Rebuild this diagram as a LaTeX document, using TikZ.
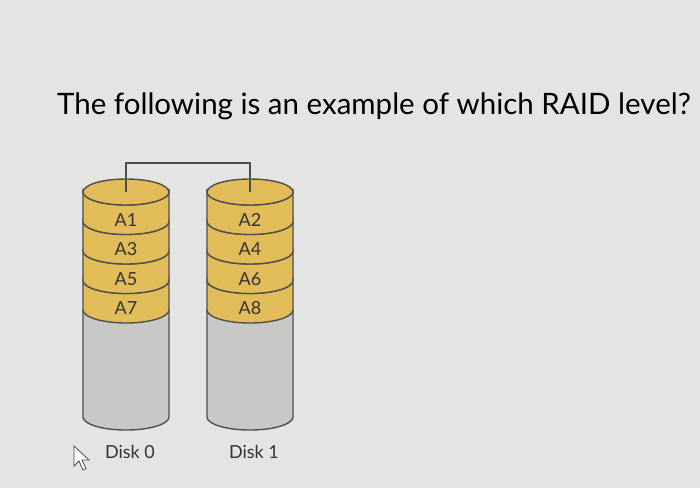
\documentclass[tikz,border=0pt]{standalone}
\usepackage{fontspec}
\setmainfont{Lato}
\usetikzlibrary{positioning}

\definecolor{screen}{HTML}{E4E4E2}
\definecolor{stripe}{HTML}{E2BC58}
\definecolor{platter}{HTML}{C8C8C6}
\definecolor{rim}{HTML}{4E4E4E}

\tikzset{
  band/.style={fill=stripe, draw=rim, line width=1.4pt},
  body/.style={fill=platter, draw=rim, line width=1.4pt},
  lbl/.style={font=\fontsize{18}{18}\selectfont, text=black!80},
}

\begin{document}
\begin{tikzpicture}[x=1pt,y=-1pt]

\fill [screen] (0,0) rectangle (700,488);
\useasboundingbox (0,0) rectangle (700,488);

\node (question) at (374,106) {\fontsize{29.5}{30}\selectfont The following is an example of which RAID level?};

% the two disks
\foreach \cx/\d in {126/0,250/1} {
   \draw [body] (\cx-43,310) -- (\cx-43,417) arc [start angle=180, end angle=0, x radius=43, y radius=13]
      -- (\cx+43,310) -- cycle;
   \foreach \k in {3,2,1,0}
      \draw [band] (\cx-43,{192+29.5*(\k+1)}) arc [start angle=180, end angle=0, x radius=43, y radius=13]
         -- (\cx+43,{192+29.5*\k}) arc [start angle=0, end angle=180, x radius=43, y radius=13] -- cycle;
   \draw [band] (\cx,192) ellipse [x radius=43, y radius=13];
   \coordinate (top\d) at (\cx,192);
   \node [lbl] (disk\d) at (\cx+4,452) {Disk \d};
}

\foreach \n [count=\i from 0] in {1,3,5,7}
   \node [lbl] (a\n) at (126,{220+29.5*\i}) {A\n};
\foreach \n [count=\i from 0] in {2,4,6,8}
   \node [lbl] (a\n) at (250,{220+29.5*\i}) {A\n};

\draw [rim, line width=1.4pt] (top0) -- ++(0,-29) -| (top1);

% mouse pointer
\draw [fill=white, draw=black!70, line width=0.8pt]
   (74,446) -- (74,466) -- (79,461) -- (83,470) -- (86,468.5) -- (82,460) -- (89,460) -- cycle;

\end{tikzpicture}
\end{document}
